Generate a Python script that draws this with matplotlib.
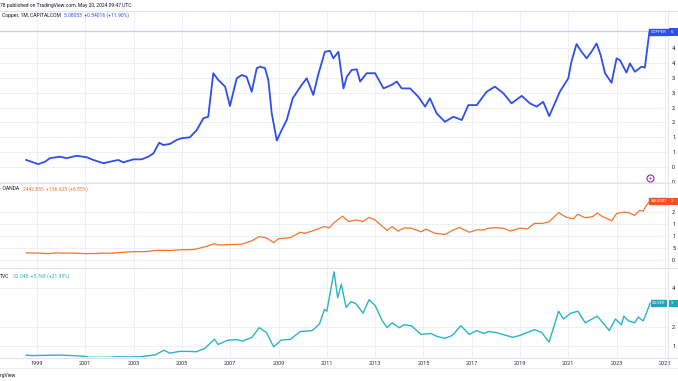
import matplotlib
matplotlib.use("Agg")
import matplotlib.pyplot as plt
from matplotlib.lines import Line2D
from matplotlib.patches import Rectangle

plt.rcParams["font.family"] = ["Roboto", "DejaVu Sans"]

# ---------------- data ----------------
copper_t = [1998.55,1999.05,1999.33,1999.54,1999.95,2000.23,2000.64,2001.06,2001.33,2001.75,
            2002.02,2002.37,2002.57,2002.99,2003.33,2003.61,2003.82,2004.06,2004.23,2004.51,
            2004.78,2004.99,2005.33,2005.61,2005.89,2006.09,2006.30,2006.51,2006.79,2006.99,
            2007.27,2007.48,2007.68,2007.89,2008.10,2008.24,2008.44,2008.58,2008.72,2008.93,
            2009.13,2009.34,2009.59,2009.96,2010.17,2010.44,2010.64,2010.92,2011.13,2011.27,
            2011.48,2011.69,2011.83,2012.03,2012.24,2012.38,2012.65,2013.0,2013.35,2013.69,
            2013.90,2014.10,2014.45,2014.79,2015.07,2015.27,2015.55,2015.89,2016.24,2016.59,
            2016.86,2017.21,2017.62,2017.96,2018.31,2018.65,2019.07,2019.41,2019.69,2019.96,
            2020.21,2020.65,2021.0,2021.13,2021.34,2021.55,2021.76,2021.96,2022.17,2022.34,
            2022.52,2022.79,2023.0,2023.14,2023.41,2023.55,2023.76,2024.03,2024.17,2024.35,2024.38]
copper_v = [0.74,0.60,0.68,0.80,0.85,0.80,0.88,0.83,0.74,0.63,
            0.68,0.74,0.66,0.76,0.76,0.85,0.96,1.32,1.24,1.28,
            1.41,1.47,1.50,1.74,2.14,2.19,3.65,3.42,3.20,2.55,
            3.48,3.59,3.53,3.03,3.82,3.87,3.82,3.42,2.30,1.39,
            1.74,2.08,2.81,3.26,3.48,2.92,3.59,4.37,4.40,4.15,
            4.37,3.14,3.53,3.76,3.78,3.37,3.65,3.65,3.14,3.26,
            3.37,3.14,3.14,2.86,2.53,2.81,2.30,2.02,2.19,2.08,
            2.58,2.58,3.03,3.20,2.98,2.64,2.89,2.64,2.53,2.69,
            2.21,3.03,3.48,4.04,4.63,4.37,4.15,4.37,4.65,4.26,
            3.65,3.33,4.15,4.09,3.67,3.98,3.70,3.87,3.84,4.99,5.08]

gold_t = [1998.55,1998.8,1999.0,1999.5,1999.8,2000.0,2000.5,2001.0,2001.5,2001.75,
          2002.0,2002.5,2003.0,2003.5,2004.0,2004.5,2005.0,2005.5,2006.0,2006.35,
          2006.5,2007.0,2007.5,2007.9,2008.2,2008.5,2008.8,2009.0,2009.5,2009.9,
          2010.1,2010.5,2010.9,2011.1,2011.3,2011.65,2011.9,2012.2,2012.5,2012.75,
          2013.0,2013.3,2013.5,2013.7,2013.95,2014.2,2014.5,2014.9,2015.1,2015.5,
          2015.9,2016.2,2016.5,2016.9,2017.2,2017.5,2017.7,2018.0,2018.3,2018.6,
          2019.0,2019.3,2019.6,2019.9,2020.2,2020.6,2020.9,2021.2,2021.4,2021.7,
          2022.0,2022.2,2022.4,2022.8,2023.0,2023.3,2023.5,2023.75,2023.95,2024.1,
          2024.25,2024.38]
gold_v = [295,292,288,260,300,285,285,265,270,285,
          280,315,345,350,405,395,425,435,560,680,
          620,640,660,800,970,920,720,880,930,1150,
          1110,1240,1390,1330,1550,1820,1600,1660,1600,1770,
          1660,1400,1230,1390,1200,1330,1320,1170,1280,1100,
          1060,1230,1350,1150,1250,1250,1320,1340,1320,1200,
          1320,1290,1520,1515,1580,1970,1780,1710,1900,1750,
          1800,1950,1810,1630,1930,1990,1960,1850,2060,2030,
          2290,2442]

silver_t = [1998.55,1998.8,1999.0,1999.5,2000.0,2000.5,2001.0,2001.2,2001.5,2001.9,
            2002.2,2002.4,2002.8,2003.0,2003.3,2003.5,2003.9,2004.25,2004.5,2004.9,
            2005.3,2005.6,2005.95,2006.35,2006.5,2006.9,2007.3,2007.5,2007.9,2008.2,
            2008.5,2008.8,2009.1,2009.5,2009.9,2010.4,2010.7,2010.9,2011.0,2011.3,
            2011.45,2011.6,2011.8,2012.0,2012.2,2012.5,2012.75,2013.0,2013.3,2013.5,
            2013.7,2014.0,2014.2,2014.5,2014.9,2015.3,2015.6,2015.9,2016.2,2016.55,
            2016.9,2017.2,2017.5,2017.7,2018.0,2018.7,2019.0,2019.6,2019.9,2020.2,
            2020.6,2020.8,2021.1,2021.4,2021.7,2022.2,2022.7,2022.95,2023.2,2023.3,
            2023.5,2023.75,2023.9,2024.1,2024.25,2024.38]
silver_v = [5.3,5.0,5.1,5.2,5.3,5.0,4.6,4.1,4.15,4.1,
            4.35,4.45,4.3,4.4,4.45,4.8,5.4,7.8,6.3,7.2,
            7.2,7.0,8.8,13.5,10.8,13.0,13.3,12.5,14.5,19.5,
            17.0,9.5,13.0,13.5,17.5,18.0,21.5,29.0,28.0,48.5,
            35.0,42.0,30.0,33.0,32.0,27.0,34.0,31.0,23.0,19.5,
            22.0,19.5,21.0,20.5,16.0,16.5,14.8,14.0,15.5,20.5,
            16.0,18.0,16.5,17.5,17.0,14.5,15.5,18.5,17.0,12.0,
            28.0,24.0,27.0,28.0,22.0,25.5,18.0,24.0,21.0,25.5,
            23.0,22.0,25.0,23.0,27.5,32.05]

year_ticks = [1999, 2001, 2003, 2005, 2007, 2009, 2011, 2013, 2015, 2017, 2019, 2021, 2023, 2025]
# price-scale labels: value and the part that is visible at the cropped right edge
copper_ticks = [0.0, 0.5, 1.0, 1.5, 2.0, 2.5, 3.0, 3.5, 4.0, 4.5]
copper_tick_text = ["0.", "0.", "1.", "1.", "2.", "2.", "3.", "3.", "4.", "4."]
gold_ticks = [0, 500, 1000, 1500, 2000]
gold_tick_text = ["0", "5", "1", "1", "2"]
silver_ticks = [10, 20, 40]
silver_tick_text = ["1", "2", "4"]

# ---------------- layout helpers ----------------
W, H = 678, 381
def fx(px): return px / W
def fy(py): return 1 - py / H

fig = plt.figure(figsize=(W / 100, H / 100), dpi=100)
fig.patch.set_facecolor("white")

PR = 668  # right edge of plot area (px)
X0 = 1999 - 37 / 24.15
X1 = 1999 + (PR - 37) / 24.15
FS = 3.6
TFS = 4.0
GRID = "#e0e3eb"
TXT = "#131722"

def make_ax(top, bottom, ylim, yticks, ytext):
    ax = fig.add_axes([0, fy(bottom), fx(PR), (bottom - top) / H])
    for s in ax.spines.values():
        s.set_visible(False)
    ax.set_xlim(X0, X1)
    ax.set_ylim(*ylim)
    ax.set_xticks(year_ticks)
    ax.set_yticks(yticks)
    ax.set_yticklabels(ytext)
    ax.yaxis.tick_right()
    ax.tick_params(axis="both", length=0, labelsize=TFS, labelcolor=TXT)
    ax.tick_params(axis="y", pad=3.0)
    ax.grid(True, color="#edf0f6", lw=0.7)
    ax.set_axisbelow(True)
    return ax

# copper pane: y=11..183, value -> y = 182 - v*29.8
ax1 = make_ax(11, 183, ((182 - 183) / 29.8, (182 - 11) / 29.8), copper_ticks, copper_tick_text)
ax1.tick_params(axis="x", labelbottom=False)
ax1.axhline(copper_v[-1], color="#c8cdea", lw=0.9)
ax1.plot(copper_t, copper_v, color="#2f4fe8", lw=1.3, solid_joinstyle="round")

# gold pane: y=183..268, value -> y = 260 - v*0.0241
ax2 = make_ax(183, 268, ((260 - 268) / 0.0241, (260 - 183) / 0.0241), gold_ticks, gold_tick_text)
ax2.tick_params(axis="x", labelbottom=False)
ax2.plot(gold_t, gold_v, color="#f4742a", lw=0.9)

# silver pane: y=268..357, value -> y = 346 - (v-10)*1.93
ax3 = make_ax(268, 357, (10 - (357 - 346) / 1.93, 10 + (346 - 268) / 1.93), silver_ticks, silver_tick_text)
ax3.tick_params(axis="x", pad=2.8, labelcolor="#2a2e39")
ax3.plot(silver_t, silver_v, color="#2bb3c6", lw=1.0)

# separators / borders
for py in (11, 183, 268, 357.5):
    fig.add_artist(Line2D([0, 1], [fy(py), fy(py)], color=GRID, lw=0.8))
fig.add_artist(Line2D([0, 1], [fy(368), fy(368)], color="#eceef3", lw=0.8))
fig.add_artist(Line2D([fx(PR), fx(PR)], [fy(11), fy(368)], color=GRID, lw=0.6))

# header and legends
fig.text(fx(0), fy(5), "78 published on TradingView.com, May 20, 2024 09:47 UTC",
         fontsize=FS, color=TXT, va="center", ha="left")
fig.text(fx(2), fy(15), "Copper, 1M, CAPITALCOM", fontsize=FS, color=TXT, va="center")
fig.text(fx(63.5), fy(15), "5.08033  +0.54016 (+11.90%)", fontsize=FS, color="#2f4fe8", va="center")
fig.text(fx(0), fy(189), "· OANDA", fontsize=FS, color=TXT, va="center")
fig.text(fx(23), fy(189), "2442.835  +156.625 (+6.85%)", fontsize=FS, color="#f4742a", va="center")
fig.text(fx(0), fy(276), "TVC", fontsize=FS, color=TXT, va="center")
fig.text(fx(13), fy(276), "32.048  +5.768 (+21.95%)", fontsize=FS, color="#2bb3c6", va="center")
fig.text(fx(0), fy(376), "ngView", fontsize=FS, color=TXT, va="center")

# price-scale tags (symbol box + cropped value box)
def tag(py, name, val, col, h=7):
    fig.text(fx(658.5), fy(py), name, fontsize=3.0, color="white", va="center", ha="center",
             bbox=dict(boxstyle="square,pad=0.3", fc=col, ec=col))
    fig.add_artist(Rectangle((fx(669), fy(py + h / 2)), fx(9), h / H, transform=fig.transFigure,
                             fc=col, ec="none"))
    fig.text(fx(670.5), fy(py), val, fontsize=3.0, color="white", va="center", ha="left")

tag(32, "COPPER", "5.", "#2f4fe8")
tag(201, "XAUUSD", "2", "#f4511e")
tag(303, "SILVER", "3", "#22a5b8")

# events icon
fig.add_artist(Line2D([fx(650)], [fy(178)], marker="o", markersize=5, mfc="white",
                      mec="#9c27b0", mew=0.8))
fig.add_artist(Line2D([fx(650)], [fy(178)], marker="o", markersize=1.4, mfc="#9c27b0",
                      mec="#9c27b0", mew=0))

fig.savefig("out.png", dpi=100, facecolor="white")
